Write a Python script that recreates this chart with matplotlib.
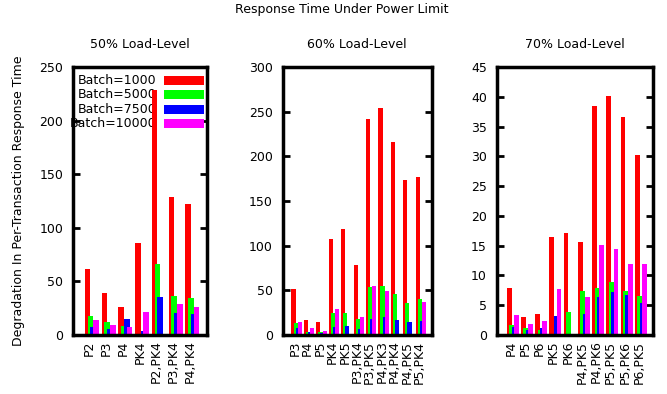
import matplotlib
matplotlib.use("Agg")
import matplotlib.pyplot as plt
from matplotlib.patches import Rectangle
import numpy as np

series_names = ["Batch=1000", "Batch=5000", "Batch=7500", "Batch=10000"]
colors = ["#ff0000", "#00ff00", "#0000ff", "#ff00ff"]

cats_50 = ["P2", "P3", "P4", "PK4", "P2,PK4", "P3,PK4", "P4,PK4"]
b1000_50 = [61.3, 38.9, 26.4, 86.1, 229.0, 129.0, 121.9]
b5000_50 = [17.7, 12.4, 8.4, 0.0, 66.2, 36.4, 34.8]
b7500_50 = [7.8, 5.3, 14.6, 4.0, 35.8, 20.2, 19.6]
b10000_50 = [14.0, 9.3, 7.2, 21.1, 0.0, 28.6, 25.8]

cats_60 = ["P3", "P4", "P5", "PK4", "PK5", "P3,PK4", "P3,PK5", "P4,PK3", "P4,PK4", "P4,PK5", "P5,PK4"]
b1000_60 = [51.1, 16.8, 14.2, 108.0, 118.5, 78.3, 241.5, 254.2, 216.2, 173.3, 177.4]
b5000_60 = [13.0, 3.7, 3.7, 24.2, 24.2, 17.9, 54.0, 55.2, 45.8, 35.4, 39.9]
b7500_60 = [7.5, 3.7, 2.6, 9.3, 10.0, 6.3, 17.5, 19.8, 16.8, 14.2, 15.7]
b10000_60 = [14.9, 8.2, 4.8, 28.7, 0.0, 20.5, 55.2, 49.2, 0.0, 0.0, 36.9]

cats_70 = ["P4", "P5", "P6", "PK5", "PK6", "P4,PK5", "P4,PK6", "P5,PK5", "P5,PK6", "P6,PK5"]
b1000_70 = [7.9, 3.0, 3.5, 16.4, 17.2, 15.6, 38.4, 40.2, 36.6, 30.3]
b5000_70 = [1.6, 1.2, 0.8, 0.0, 3.9, 7.4, 7.9, 8.9, 7.4, 6.5]
b7500_70 = [1.4, 0.8, 1.1, 3.2, 0.0, 3.5, 6.3, 7.2, 6.7, 5.4]
b10000_70 = [3.3, 1.8, 2.3, 7.7, 0.0, 6.3, 15.1, 14.4, 12.0, 12.0]

panels = [
    ("50% Load-Level", cats_50, [b1000_50, b5000_50, b7500_50, b10000_50], 250, 50),
    ("60% Load-Level", cats_60, [b1000_60, b5000_60, b7500_60, b10000_60], 300, 50),
    ("70% Load-Level", cats_70, [b1000_70, b5000_70, b7500_70, b10000_70], 45, 5),
]

W, H = 667, 394
fig = plt.figure(figsize=(W / 100, H / 100), dpi=100)

axes_px = [(73, 207), (282.7, 431.7), (496.7, 653.3)]
top_px, bot_px = 67, 335

width = 1 / 3
step = 1 / 6
first_off = -0.125

for (title, cats, vals, ymax, ystep), (x0, x1) in zip(panels, axes_px):
    ax = fig.add_axes([x0 / W, 1 - bot_px / H, (x1 - x0) / W, (bot_px - top_px) / H])
    n = len(cats)
    x = np.arange(n)
    for j, (v, c) in enumerate(zip(vals, colors)):
        ax.bar(x + first_off + j * step, v, width=width, color=c, edgecolor="none",
               zorder=2 + j)
    ax.set_xlim(-1, n)
    ax.set_ylim(0, ymax)
    ax.set_yticks(np.arange(0, ymax + 0.1, ystep))
    ax.set_xticks(x)
    ax.set_xticklabels(cats, rotation=90, fontsize=9)
    ax.tick_params(axis="x", length=0, pad=4)
    ax.tick_params(axis="y", direction="in", left=True, right=True, length=5,
                   width=2, labelsize=9, pad=7)
    for s in ax.spines.values():
        s.set_linewidth(2.5)
        s.set_zorder(10)
    fig.text(((x0 + x1) / 2) / W, 1 - 45 / H, title, ha="center", va="center", fontsize=9)

    if title.startswith("50"):
        ax.set_ylabel("Degradation In Per-Transaction Response Time", fontsize=9)
        ax.yaxis.set_label_coords(-0.36, 0.5)
        rows = [0.951, 0.897, 0.842, 0.789]
        for name, c, ry in zip(series_names, colors, rows):
            ax.text(0.625, ry, name, transform=ax.transAxes, ha="right", va="center",
                    fontsize=9, zorder=1, clip_on=False)
            ax.add_patch(Rectangle((0.679, ry - 0.017), 0.295, 0.034,
                                   transform=ax.transAxes, facecolor=c,
                                   edgecolor="none", zorder=5))

fig.text(342 / W, 1 - 10 / H, "Response Time Under Power Limit", ha="center",
         va="center", fontsize=9)

fig.savefig("out.png", dpi=100)
